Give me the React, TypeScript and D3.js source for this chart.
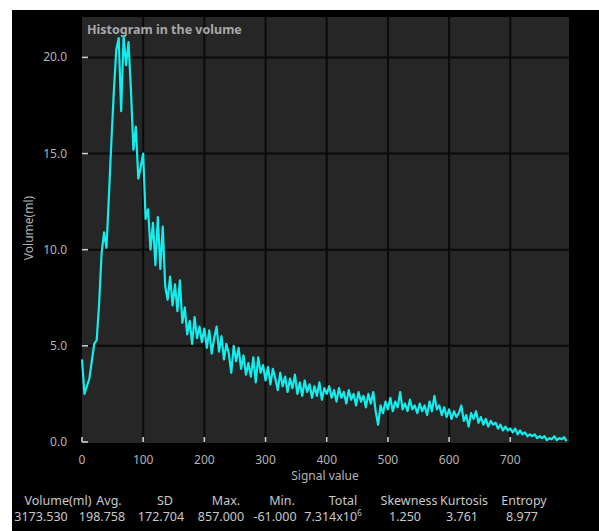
import React from "react";
import * as d3 from "d3";

const signalValues: number[] = [
  0, 4, 8, 12, 16, 20, 24, 28, 32, 36, 40, 44, 48, 52, 56, 60, 64, 68, 72, 76, 80, 84, 88, 92, 96, 100,
  104, 108, 112, 116, 120, 124, 128, 132, 136, 140, 144, 148, 152, 156, 160, 164, 168, 172, 176, 180,
  184, 188, 192, 196, 200, 204, 208, 212, 216, 220, 224, 228, 232, 236, 240, 244, 248, 252, 256, 260,
  264, 268, 272, 276, 280, 284, 288, 292, 296, 300, 304, 308, 312, 316, 320, 324, 328, 332, 336, 340,
  344, 348, 352, 356, 360, 364, 368, 372, 376, 380, 384, 388, 392, 396, 400, 404, 408, 412, 416, 420,
  424, 428, 432, 436, 440, 444, 448, 452, 456, 460, 464, 468, 472, 476, 480, 484, 488, 492, 496, 500,
  504, 508, 512, 516, 520, 524, 528, 532, 536, 540, 544, 548, 552, 556, 560, 564, 568, 572, 576, 580,
  584, 588, 592, 596, 600, 604, 608, 612, 616, 620, 624, 628, 632, 636, 640, 644, 648, 652, 656, 660,
  664, 668, 672, 676, 680, 684, 688, 692, 696, 700, 704, 708, 712, 716, 720, 724, 728, 732, 736, 740,
  744, 748, 752, 756, 760, 764, 768, 772, 776, 780, 784, 788, 792,
];

const volumeValues: number[] = [
  4.3, 2.5, 2.9, 3.3, 4.2, 5.1, 5.3, 7.2, 9.8, 10.9, 10.1, 12.8, 15.6, 18.2, 20.4, 21.0, 17.2, 21.1, 19.6, 20.8, 18.3, 15.2, 16.4, 13.7, 14.3, 15.0,
  11.6, 12.1, 10.0, 11.4, 9.2, 11.7, 9.0, 11.2, 8.1, 7.4, 8.6, 7.1, 8.2, 6.8, 8.4, 6.2, 7.0, 5.6, 6.3, 5.1,
  6.5, 5.4, 6.0, 5.2, 5.9, 4.9, 5.8, 4.6, 5.4, 6.0, 4.7, 5.5, 4.3, 5.1, 4.6, 3.6, 5.0, 4.2, 4.9, 3.8,
  4.5, 3.5, 4.1, 3.4, 4.4, 3.1, 4.4, 3.6, 4.0, 3.2, 3.9, 3.0, 3.8, 3.3, 2.7, 3.6, 2.9, 3.4, 2.6, 3.3,
  2.8, 3.5, 2.5, 3.1, 2.4, 3.2, 2.6, 3.0, 2.3, 2.9, 2.4, 3.1, 2.2, 2.8, 2.5, 2.9, 2.3, 2.7, 2.1, 2.8,
  2.3, 2.6, 2.0, 2.7, 2.2, 2.5, 1.9, 2.6, 2.1, 2.4, 1.8, 2.5, 2.0, 2.6, 1.6, 0.9, 1.9, 1.5, 2.1, 1.7,
  2.3, 1.6, 2.1, 1.8, 2.6, 1.7, 2.0, 1.6, 2.2, 1.7, 1.9, 1.5, 2.0, 1.6, 1.9, 1.4, 2.1, 1.6, 2.4, 1.7,
  1.9, 1.4, 1.8, 1.3, 1.7, 1.2, 1.6, 1.3, 1.5, 1.9, 1.1, 1.4, 0.8, 1.5, 1.2, 1.6, 1.0, 1.3, 0.9, 1.2,
  0.8, 1.1, 0.9, 1.0, 0.7, 0.9, 0.6, 0.8, 0.6, 0.7, 0.5, 0.7, 0.4, 0.6, 0.4, 0.5, 0.3, 0.4, 0.3, 0.4,
  0.2, 0.3, 0.2, 0.3, 0.1, 0.2, 0.15, 0.3, 0.1, 0.2, 0.15, 0.25, 0.05,
];

const xTicks: number[] = [0, 100, 200, 300, 400, 500, 600, 700];
const yTicks: number[] = [0, 5, 10, 15, 20];

const statHeaders: string[] = ["Volume(ml)", "Avg.", "SD", "Max.", "Min.", "Total", "Skewness", "Kurtosis", "Entropy"];
const statValues: string[] = ["3173.530", "198.758", "172.704", "857.000", "-61.000", "7.314x10", "1.250", "3.761", "8.977"];
const statHeaderX: number[] = [58, 109, 165, 226, 282, 343, 409, 464, 524];
const statValueX: number[] = [41, 102, 161, 221, 275, 333, 405, 462, 522];

export default function App() {
  const W = 599, H = 531;
  const left = 82, right = 569, top = 17, bottom = 442;
  const x = d3.scaleLinear().domain([0, 796]).range([left, right]);
  const y = d3.scaleLinear().domain([0, 22.1]).range([bottom, top]);
  const pts: [number, number][] = signalValues.map((s, i) => [s, volumeValues[i]]);
  const line = d3.line<[number, number]>().x((d) => x(d[0])).y((d) => y(d[1]));
  const font = "'Noto Sans', 'Open Sans', sans-serif";
  const gray = "#b4b4b4";

  return (
    <svg width={W} height={H} style={{ position: "fixed", left: 0, top: 0, background: "#fff" }} fontFamily={font}>
      <rect x={12} y={10} width={W - 12} height={H - 10} fill="#000" />
      <rect x={left} y={top} width={right - left} height={bottom - top + 1} fill="#262626" />
      {xTicks.filter((t) => t > 0).map((t) => (
        <line key={"gx" + t} x1={x(t)} x2={x(t)} y1={top} y2={bottom + 1} stroke="#0a0a0a" strokeWidth={2} />
      ))}
      {yTicks.filter((t) => t > 0).map((t) => (
        <line key={"gy" + t} x1={left} x2={right} y1={y(t)} y2={y(t)} stroke="#0a0a0a" strokeWidth={2} />
      ))}
      <text x={87} y={34} fill="#a8a8a8" fontSize={12.5} fontWeight="bold">Histogram in the volume</text>
      <path d={line(pts) || ""} fill="none" stroke="#12eeee" strokeWidth={2.2} strokeLinejoin="round" />
      {xTicks.map((t) => (
        <g key={"tx" + t}>
          <line x1={x(t)} x2={x(t)} y1={bottom - 5} y2={bottom} stroke="#d0d0d0" strokeWidth={1.6} />
          <text x={x(t)} y={464} fill={gray} fontSize={12} textAnchor="middle">{t}</text>
        </g>
      ))}
      {yTicks.map((t) => (
        <g key={"ty" + t}>
          <line x1={left} x2={left + 6} y1={y(t)} y2={y(t)} stroke="#d0d0d0" strokeWidth={1.6} />
          <text x={67} y={y(t) + 4} fill={gray} fontSize={12} textAnchor="end">{t.toFixed(1)}</text>
        </g>
      ))}
      <text x={325} y={480} fill={gray} fontSize={12} textAnchor="middle">Signal value</text>
      <text transform={`translate(33,228) rotate(-90)`} fill={gray} fontSize={12} textAnchor="middle">Volume(ml)</text>
      {statHeaders.map((h, i) => (
        <text key={"sh" + i} x={statHeaderX[i]} y={505} fill="#c8c8c8" fontSize={12.5} textAnchor="middle">{h}</text>
      ))}
      {statValues.map((v, i) => (
        <text key={"sv" + i} x={statValueX[i]} y={521} fill="#c8c8c8" fontSize={12.5} textAnchor="middle">
          {v}
          {i === 5 ? <tspan fontSize={8} dy={-5}>6</tspan> : null}
        </text>
      ))}
    </svg>
  );
}
